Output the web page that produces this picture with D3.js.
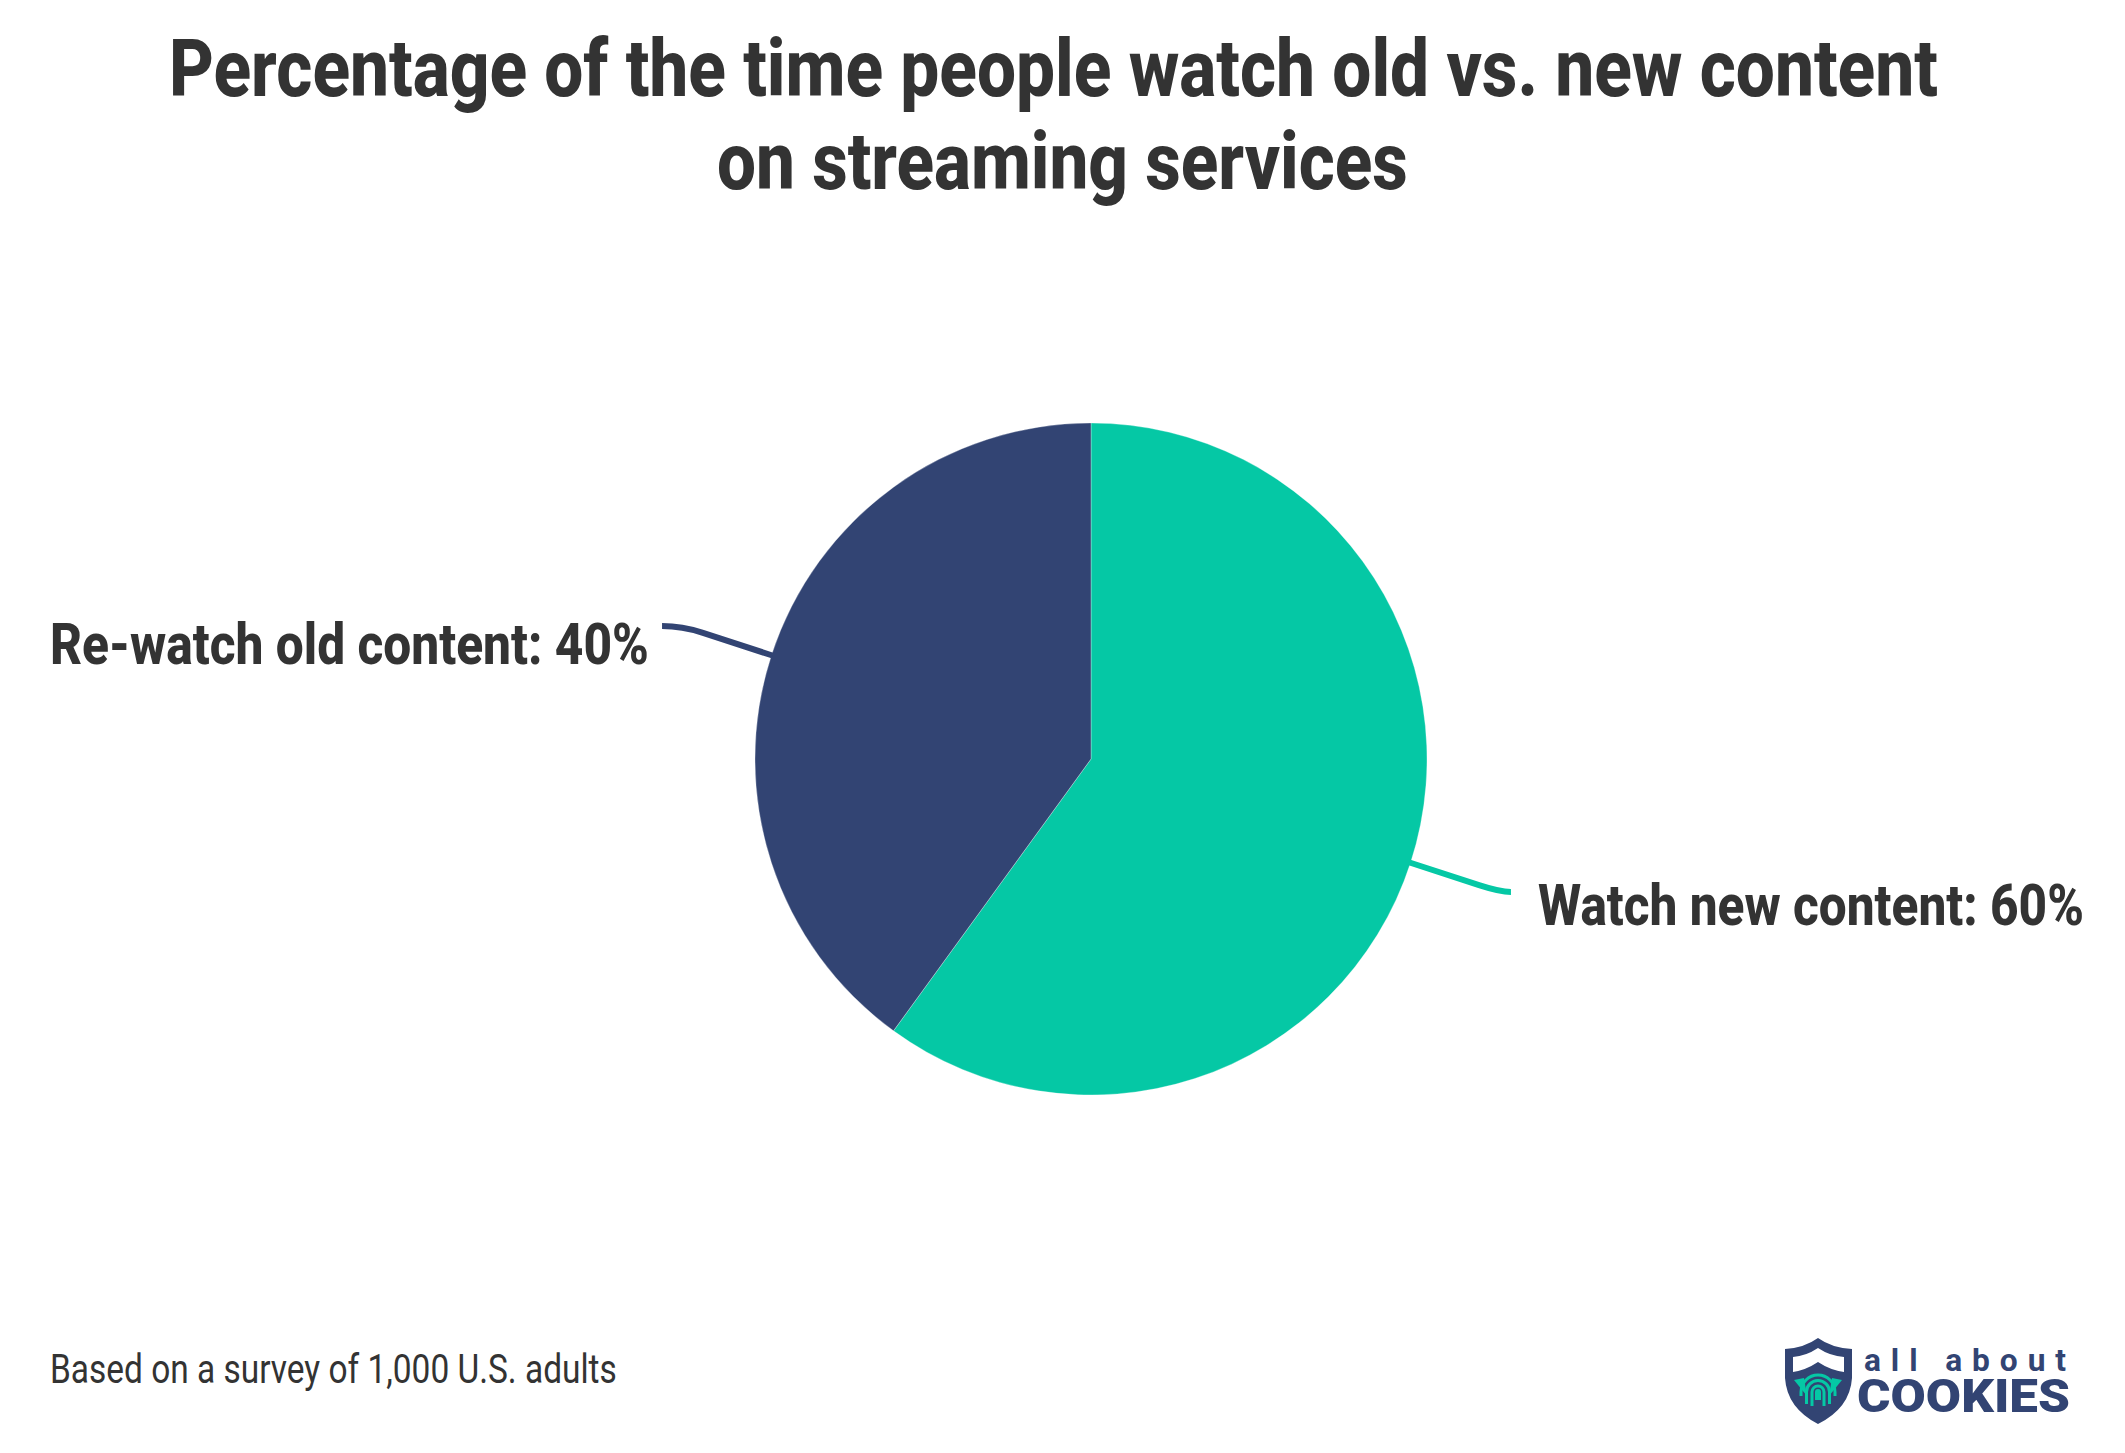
<!DOCTYPE html>
<html>
<head>
<meta charset="utf-8">
<script src="https://cdn.jsdelivr.net/npm/d3@7"></script>
<style>
  html, body { margin: 0; padding: 0; background: #fff; }
  svg { display: block; }
  text { font-family: Roboto, sans-serif; fill: #333; }
</style>
</head>
<body>
<svg id="chart" width="2125" height="1453"></svg>
<script>
var categories = ['Watch new content', 'Re-watch old content'];
var values = [60, 40];
var colors = ['#05c8a5', '#324473'];
var titleLines = ['Percentage of the time people watch old vs. new content', 'on streaming services'];
var note = 'Based on a survey of 1,000 U.S. adults';

var svg = d3.select('#chart');
var cx = 1091, cy = 759, radius = 336;
var navy = colors[1], teal = colors[0];

// Roboto Condensed isn't installed, so squeeze the glyphs to the wanted width
function fitted(parent, str, x, y, width, size, weight) {
  var t = parent.append('text').text(str)
    .attr('font-size', size)
    .attr('font-weight', weight);
  var k = width / t.node().getComputedTextLength();
  return t.attr('transform', `translate(${x},${y}) scale(${k},1)`);
}

fitted(svg, titleLines[0], 169, 96, 1769, 80, 800);
fitted(svg, titleLines[1], 717, 189, 691, 80, 800);

var pie = d3.pie().value(d => d).sort(null);
var arcs = pie(values);
var arc = d3.arc().innerRadius(0).outerRadius(radius);

var g = svg.append('g').attr('transform', `translate(${cx},${cy})`);

g.selectAll('path.slice')
  .data(arcs)
  .enter()
  .append('path')
    .attr('class', 'slice')
    .attr('d', arc)
    .attr('fill', (d, i) => colors[i])
    .attr('stroke', '#fff')
    .attr('stroke-width', 0.3);

// leader lines run out along the middle of each slice, then flatten off
var tails = [11, 20];
g.selectAll('path.leader')
  .data(arcs)
  .enter()
  .append('path')
    .attr('class', 'leader')
    .attr('fill', 'none')
    .attr('stroke', (d, i) => colors[i])
    .attr('stroke-width', 6)
    .attr('d', (d, i) => {
      var a = (d.startAngle + d.endAngle) / 2;
      var sx = Math.sin(a), sy = -Math.cos(a);
      var side = sx > 0 ? 1 : -1;
      var r0 = radius - 1, r1 = 408, r2 = 430;
      return `M${r0 * sx},${r0 * sy}` +
        `L${r1 * sx},${r1 * sy}` +
        `Q${r2 * sx},${r2 * sy} ${r2 * sx + side * tails[i]},${r2 * sy}`;
    });

var labelPos = [
  { x: 1538, y: 925, width: 546 },
  { x: 50, y: 664, width: 599 }
];
categories.forEach((c, i) => {
  var p = labelPos[i];
  fitted(svg, `${c}: ${values[i]}%`, p.x, p.y, p.width, 58, 800);
});

fitted(svg, note, 50, 1383, 567, 40, 400);

// logo
var logo = svg.append('g').attr('class', 'logo');
logo.append('path')
  .attr('d', 'M1818,1338 Q1832,1348 1852,1349 L1852,1378 Q1850,1408 1818,1424 Q1787,1408 1785,1378 L1785,1349 Q1804,1348 1818,1338 Z')
  .attr('fill', navy);
logo.append('path')
  .attr('d', 'M1818,1348 Q1830,1356 1844,1357 L1844,1372 Q1830,1370 1818,1362 Q1806,1370 1793,1372 L1793,1357 Q1806,1356 1818,1348 Z')
  .attr('fill', '#fff');
logo.append('path').attr('d', 'M1794,1380 L1804,1378 L1807,1396 Z').attr('fill', teal);
logo.append('path').attr('d', 'M1842,1380 L1832,1378 L1829,1396 Z').attr('fill', teal);
// fingerprint ridges, outer to inner
[[17, 1402], [11.5, 1410], [6, 1412], [1.5, 1406]].forEach(r => {
  logo.append('path')
    .attr('d', `M${1818 - r[0]},${r[1] - 6} L${1818 - r[0]},1392 A${r[0]},${r[0]} 0 0 1 ${1818 + r[0]},1392 L${1818 + r[0]},${r[1] - 6}`)
    .attr('fill', 'none')
    .attr('stroke', teal)
    .attr('stroke-width', 3);
});

var allAbout = logo.append('text').text('all about')
  .attr('font-family', 'Lato')
  .attr('font-size', 32)
  .attr('font-weight', 700)
  .attr('letter-spacing', 10)
  .style('fill', navy);
allAbout.attr('transform', `translate(1864,1371) scale(${212 / allAbout.node().getComputedTextLength()},1)`);

var cookies = fitted(logo, 'COOKIES', 1857, 1412, 213, 47, 900);
cookies.style('fill', navy).attr('font-family', 'Lato');
cookies.attr('transform', `translate(1857,1412) scale(${213 / cookies.node().getComputedTextLength()},1)`);
</script>
</body>
</html>
